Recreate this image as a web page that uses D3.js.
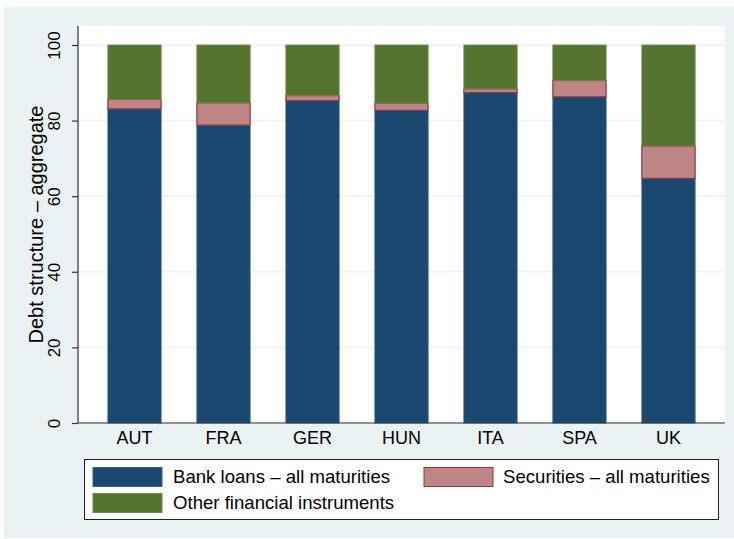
<!DOCTYPE html>
<html>
<head>
<meta charset="utf-8">
<script src="https://cdn.jsdelivr.net/npm/d3@7"></script>
<style>
  body { margin: 0; background: #fff; }
  text { font-family: "Liberation Sans", Arial, Helvetica, sans-serif; fill: #000; }
</style>
</head>
<body>
<div id="chart"></div>
<script>
var countries = ["AUT", "FRA", "GER", "HUN", "ITA", "SPA", "UK"];
var bankLoans = [83.1, 78.8, 85.3, 82.7, 87.4, 86.3, 64.7];
var securities = [2.5, 5.9, 1.3, 1.9, 1.0, 4.3, 8.6];
var otherInstr = [14.4, 15.3, 13.4, 15.4, 11.6, 9.4, 26.7];
var yTicks = [0, 20, 40, 60, 80, 100];
var seriesKeys = ["bank", "sec", "other"];
var seriesNames = ["Bank loans \u2013 all maturities", "Securities \u2013 all maturities", "Other financial instruments"];
var fills = { bank: "#1b4870", sec: "#bd8586", other: "#55742f" };
var strokes = { bank: "#3d6283", sec: "#93373d", other: "#6f8a4e" };

var width = 734, height = 539;
var plot = { left: 78, right: 725, top: 26, bottom: 423 };

var rows = countries.map(function(c, i) {
  return { country: c, bank: bankLoans[i], sec: securities[i], other: otherInstr[i] };
});

var svg = d3.select("#chart").append("svg")
  .attr("width", width)
  .attr("height", height);

// outer graph region
svg.append("rect")
  .attr("x", 4).attr("y", 7)
  .attr("width", 730).attr("height", 531)
  .style("fill", "#eaf2f3");

// plot region
svg.append("rect")
  .attr("x", plot.left).attr("y", plot.top)
  .attr("width", plot.right - plot.left).attr("height", plot.bottom - plot.top)
  .style("fill", "#fff");

var x = d3.scaleBand()
  .domain(countries)
  .range([plot.left, plot.right])
  .paddingInner(0.39)
  .paddingOuter(0.33);

var y = d3.scaleLinear()
  .domain([0, 100])
  .range([423, 45]);

// grid
svg.selectAll(".grid")
  .data(yTicks)
  .enter().append("line")
  .attr("x1", plot.left).attr("x2", plot.right)
  .attr("y1", function(d) { return y(d); })
  .attr("y2", function(d) { return y(d); })
  .style("stroke", "#eaf2f3")
  .style("stroke-width", 1.5);

var stacked = d3.stack().keys(seriesKeys)(rows);

svg.selectAll(".layer")
  .data(stacked)
  .enter().append("g")
  .attr("class", "layer")
  .each(function(layer) {
    d3.select(this).selectAll("rect")
      .data(layer)
      .enter().append("rect")
      .attr("x", function(d) { return x(d.data.country) + 0.5; })
      .attr("width", x.bandwidth() - 1)
      .attr("y", function(d) { return y(d[1]); })
      .attr("height", function(d) { return y(d[0]) - y(d[1]); })
      .style("fill", fills[layer.key])
      .style("stroke", strokes[layer.key])
      .style("stroke-width", layer.key == "sec" ? 1.2 : 0.8);
  });

// y axis
var yAxis = svg.append("g")
  .attr("transform", "translate(" + plot.left + ",0)")
  .call(d3.axisLeft(y).tickValues(yTicks).tickSize(6).tickPadding(0).tickFormat(d3.format("d")));
yAxis.select(".domain").remove();
yAxis.append("line")
  .attr("x1", 0).attr("x2", 0)
  .attr("y1", plot.top).attr("y2", plot.bottom)
  .style("stroke", "#333").style("stroke-width", 1.2);
yAxis.selectAll(".tick line").style("stroke", "#333").style("stroke-width", 1.2);
yAxis.selectAll(".tick text")
  .attr("x", 0).attr("dy", null)
  .attr("transform", "translate(-18,0) rotate(-90)")
  .style("text-anchor", "middle")
  .style("font-size", "17px")
  .style("font-family", "'Liberation Sans', Arial, sans-serif")
  .style("fill", "#000");

// x axis
var xAxis = svg.append("g")
  .attr("transform", "translate(0," + plot.bottom + ")")
  .call(d3.axisBottom(x).tickSize(0).tickPadding(0));
xAxis.select(".domain").remove();
xAxis.append("line")
  .attr("x1", plot.left).attr("x2", plot.right)
  .attr("y1", 0).attr("y2", 0)
  .style("stroke", "#333").style("stroke-width", 1.2);
xAxis.selectAll(".tick text")
  .attr("y", 20.5).attr("dy", null)
  .style("font-size", "18px")
  .style("font-family", "'Liberation Sans', Arial, sans-serif")
  .style("fill", "#000");

// y title
svg.append("text")
  .attr("transform", "translate(42.5," + (plot.top + plot.bottom) / 2 + ") rotate(-90)")
  .style("text-anchor", "middle")
  .style("font-size", "20px")
  .text("Debt structure \u2013 aggregate");

// legend
var legend = svg.append("g");
legend.append("rect")
  .attr("x", 84.5).attr("y", 459.5)
  .attr("width", 634).attr("height", 60)
  .style("fill", "#fff")
  .style("stroke", "#222")
  .style("stroke-width", 1);

var legendPos = [
  { sx: 93, sy: 467.5, tx: 173, ty: 483 },
  { sx: 424, sy: 467.5, tx: 503, ty: 483 },
  { sx: 93, sy: 493.5, tx: 173, ty: 509 }
];
seriesKeys.forEach(function(k, i) {
  var p = legendPos[i];
  legend.append("rect")
    .attr("x", p.sx).attr("y", p.sy)
    .attr("width", 69).attr("height", 19)
    .style("fill", fills[k])
    .style("stroke", strokes[k])
    .style("stroke-width", 1);
  legend.append("text")
    .attr("x", p.tx).attr("y", p.ty)
    .style("font-size", "18.6px")
    .text(seriesNames[i]);
});
</script>
</body>
</html>
